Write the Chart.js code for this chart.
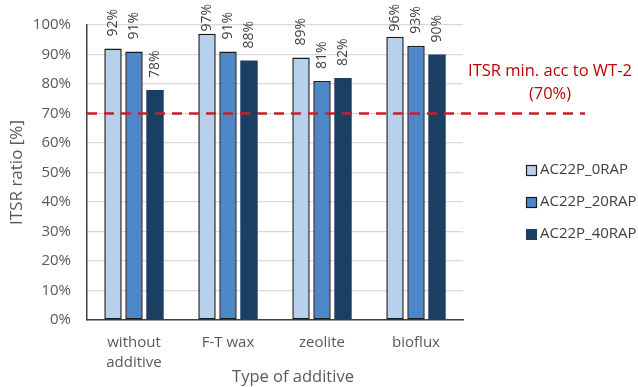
<!DOCTYPE html>
<html>
<head>
<meta charset="utf-8">
<script src="https://cdn.jsdelivr.net/npm/chart.js@4/dist/chart.umd.min.js"></script>
<style>
  html, body { margin: 0; padding: 0; background: #ffffff; }
  #wrap { width: 638px; height: 387px; }
</style>
</head>
<body>
<div id="wrap"><canvas id="c" width="638" height="387"></canvas></div>
<script>
// ITSR ratio by warm-mix additive and RAP content
const categories = [["without", "additive"], "F-T wax", "zeolite", "bioflux"];
const seriesNames = ["AC22P_0RAP", "AC22P_20RAP", "AC22P_40RAP"];
const rap0 = [92, 97, 89, 96];
const rap20 = [91, 91, 81, 93];
const rap40 = [78, 88, 82, 90];
const yTicks = [0, 10, 20, 30, 40, 50, 60, 70, 80, 90, 100];
const threshold = 70;
const thresholdText = ["ITSR min. acc to WT-2", "(70%)"];
const xTitle = "Type of additive";
const yTitle = "ITSR ratio [%]";

const FONT = "'Open Sans', 'DejaVu Sans', sans-serif";
const TEXT = "#595959";
const RED = "#c00000";

Chart.defaults.font.family = FONT;
Chart.defaults.color = TEXT;

const fills = ["#b7d1ec", "#4d87c7", "#1b3f62"];
const borders = ["#1a1a1a", "#1a1a1a", "#1b3f62"];
const borderWidths = [1.5, 1.5, 0];

// Rotated value labels above each bar, kept inside the canvas top
const valueLabels = {
  id: "valueLabels",
  afterDatasetsDraw(chart) {
    const ctx = chart.ctx;
    ctx.save();
    ctx.font = "14px " + FONT;
    ctx.fillStyle = "#404040";
    ctx.textBaseline = "middle";
    ctx.textAlign = "left";
    chart.data.datasets.forEach((ds, di) => {
      const meta = chart.getDatasetMeta(di);
      meta.data.forEach((bar, i) => {
        const txt = ds.data[i] + "%";
        const w = ctx.measureText(txt).width;
        let start = bar.y - 12;
        if (start - w < 4) start = 4 + w;
        ctx.save();
        ctx.translate(bar.x, start);
        ctx.rotate(-Math.PI / 2);
        ctx.fillText(txt, 0, 0);
        ctx.restore();
      });
    });
    ctx.restore();
  }
};

// Dashed minimum-requirement line with its caption
const thresholdLine = {
  id: "thresholdLine",
  afterDatasetsDraw(chart) {
    const ctx = chart.ctx;
    const area = chart.chartArea;
    const y = chart.scales.y.getPixelForValue(threshold);
    ctx.save();
    ctx.strokeStyle = "#c8202a";
    ctx.lineWidth = 2.5;
    ctx.setLineDash([10, 7]);
    ctx.beginPath();
    ctx.moveTo(area.left, y);
    ctx.lineTo(area.right + 122, y);
    ctx.stroke();
    ctx.setLineDash([]);
    ctx.fillStyle = RED;
    ctx.font = "16.5px " + FONT;
    ctx.textAlign = "center";
    ctx.textBaseline = "middle";
    const cx = area.right + 87;
    ctx.fillText(thresholdText[0], cx, y - 42);
    ctx.fillText(thresholdText[1], cx, y - 19);
    ctx.restore();
  }
};

// Legend block and x-axis title
const sideLegend = {
  id: "sideLegend",
  afterDraw(chart) {
    const ctx = chart.ctx;
    const area = chart.chartArea;
    ctx.save();
    ctx.font = "15px " + FONT;
    ctx.textBaseline = "middle";
    ctx.textAlign = "left";
    const bx = area.right + 63;
    chart.data.datasets.forEach((ds, i) => {
      const cy = 170 + i * 32;
      ctx.fillStyle = ds.backgroundColor;
      ctx.fillRect(bx, cy - 5, 11, 11);
      if (ds.borderWidth > 0) {
        ctx.strokeStyle = "#1a1a1a";
        ctx.lineWidth = 1.2;
        ctx.strokeRect(bx + 0.5, cy - 4.5, 10, 10);
      }
      ctx.fillStyle = "#404040";
      ctx.fillText(ds.label, bx + 14, cy);
    });
    ctx.font = "16.5px " + FONT;
    ctx.fillStyle = TEXT;
    ctx.textAlign = "center";
    ctx.fillText(xTitle, 293, 377);
    ctx.restore();
  }
};

const seriesValues = [rap0, rap20, rap40];

new Chart(document.getElementById("c"), {
  type: "bar",
  data: {
    labels: categories,
    datasets: seriesNames.map((name, i) => ({
      label: name,
      data: seriesValues[i],
      backgroundColor: fills[i],
      borderColor: borders[i],
      borderWidth: borderWidths[i],
      borderSkipped: false,
      categoryPercentage: 0.67,
      barPercentage: 0.83
    }))
  },
  options: {
    responsive: false,
    animation: false,
    devicePixelRatio: 1,
    layout: { padding: { top: 20, right: 175, bottom: 0, left: 0 } },
    plugins: {
      legend: { display: false },
      tooltip: { enabled: false }
    },
    scales: {
      x: {
        grid: { display: false, drawTicks: false },
        border: { color: "#404040", width: 1.5 },
        ticks: {
          font: { size: 15, lineHeight: 1.33 },
          color: TEXT,
          padding: 13,
          maxRotation: 0,
          autoSkip: false
        },
        afterFit(scale) { scale.height = 67; }
      },
      y: {
        min: 0,
        max: 100,
        afterBuildTicks(scale) { scale.ticks = yTicks.map(v => ({ value: v })); },
        grid: { color: "#d9d9d9", lineWidth: 1.2, drawTicks: false },
        border: { color: "#404040", width: 1.5 },
        ticks: {
          font: { size: 15 },
          color: TEXT,
          padding: 16,
          callback: v => v + "%"
        },
        title: {
          display: true,
          text: yTitle,
          font: { size: 17 },
          color: TEXT,
          padding: { top: 7, bottom: 0 }
        },
        afterFit(scale) { scale.width = 87; }
      }
    }
  },
  plugins: [valueLabels, thresholdLine, sideLegend]
});
</script>
</body>
</html>
